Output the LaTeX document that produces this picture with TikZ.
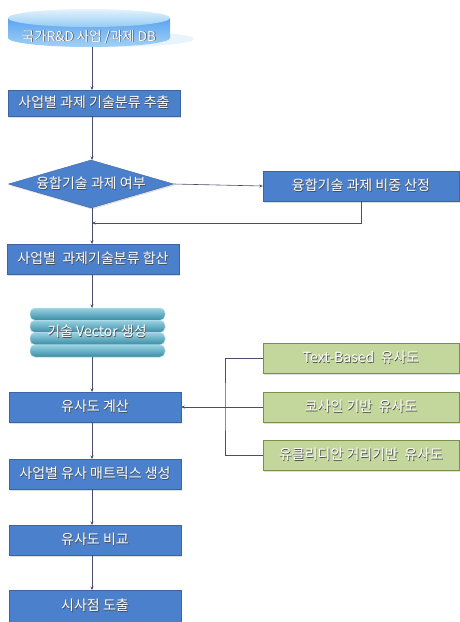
\documentclass[tikz,border=0pt]{standalone}
\usepackage{fontspec}
\setmainfont{Noto Sans CJK KR}
\usetikzlibrary{shapes.geometric,shadows,arrows.meta}

\definecolor{boxblue}{RGB}{74,128,204}
\definecolor{boxline}{RGB}{60,100,160}
\definecolor{boxgreen}{RGB}{195,214,155}
\definecolor{greenline}{RGB}{120,145,70}
\definecolor{vecblue}{RGB}{70,175,205}
\definecolor{dbtop}{RGB}{165,212,245}
\definecolor{dbside}{RGB}{100,180,238}
\definecolor{linkgray}{RGB}{70,78,105}

\newcommand{\glow}[1]{\makebox[0pt][l]{\textcolor{black!70}{\hspace{0.7pt}\raisebox{-0.7pt}{#1}}}#1}

\tikzset{
  flowbox/.style={rectangle, fill=boxblue, draw=boxline, line width=0.4pt,
    text=white, font=\fontsize{14}{16}\selectfont, minimum width=172pt,
    minimum height=30pt, inner sep=0pt,
    drop shadow={opacity=0.25, shadow xshift=1pt, shadow yshift=-1.5pt}},
  simbox/.style={rectangle, fill=boxgreen, draw=greenline, line width=0.5pt,
    text=white, font=\fontsize{14}{16}\selectfont, minimum width=196pt,
    minimum height=30pt, inner sep=0pt,
    drop shadow={opacity=0.25, shadow xshift=1pt, shadow yshift=-1.5pt}},
  link/.style={draw=linkgray, line width=0.6pt},
  arr/.style={link, -{Stealth[length=3.5pt,width=3pt]}}
}

\begin{document}
\begin{tikzpicture}[x=1pt,y=-1pt]
  \useasboundingbox (0,0) rectangle (459,622);

  % DB disc
  \fill[dbside!15] (110,39) ellipse[x radius=84pt, y radius=8pt];
  \shade[top color=dbside!90!blue, bottom color=dbside!60!white]
    (8,18) -- (8,38) arc[start angle=180, end angle=360, x radius=81pt, y radius=9pt]
    -- (170,18) -- cycle;
  \shade[top color=dbtop!30!white, bottom color=dbtop!75!dbside]
    (89,18) ellipse[x radius=81pt, y radius=9pt];
  \node[text=white, font=\fontsize{13.5}{15}\selectfont, minimum height=20pt, inner sep=0pt]
    (db) at (89,37) {\glow{국가R\&D 사업 /과제 DB}};

  \node[flowbox, minimum height=26pt] (extract) at (94,103) {\glow{사업별 과제 기술분류 추출}};
  \node[diamond, aspect=3.4, fill=boxblue, draw=boxline, line width=0.4pt, text=white,
    font=\fontsize{14}{16}\selectfont, minimum width=165pt, minimum height=48pt,
    inner sep=0pt, drop shadow={opacity=0.25, shadow xshift=1pt, shadow yshift=-1.5pt}]
    (fusion) at (91,184) {\glow{융합기술 과제 여부}};
  \node[flowbox, minimum width=196pt] (ratio) at (361,186) {\glow{융합기술 과제 비중 산정}};
  \node[flowbox] (sumup) at (93,259) {\glow{사업별\ \ 과제기술분류 합산}};

  % vector stack
  \foreach \i in {0,1,2,3}
    \shade[top color=vecblue!55!white, bottom color=vecblue!80!black, draw=white!60!vecblue,
      line width=0.5pt, rounded corners=5pt]
      (30,308+12.25*\i) rectangle (165,320.25+12.25*\i);
  \node[text=white, font=\fontsize{14}{16}\selectfont, minimum width=135pt,
    minimum height=49pt, inner sep=0pt] (vec) at (97,332) {\glow{기술 Vector 생성}};

  \node[flowbox] (simcalc) at (95,407) {\glow{유사도 계산}};
  \node[simbox] (txtsim) at (361,358) {\glow{Text-Based\ \ 유사도}};
  \node[simbox] (cossim) at (361,407) {\glow{코사인 기반\ \ 유사도}};
  \node[simbox] (eucsim) at (361,455) {\glow{유클리디안 거리기반\ \ 유사도}};

  \node[flowbox] (matrix) at (95,474) {\glow{사업별 유사 매트릭스 생성}};
  \node[flowbox] (compare) at (95,540) {\glow{유사도 비교}};
  \node[flowbox, minimum height=32pt] (insight) at (95,606) {\glow{시사점 도출}};

  \coordinate (back) at (92,223);
  \coordinate (hub) at (225,407);

  \draw[arr] (92,47) -- (92,90);
  \draw[arr] (92,116) -- (92,160);
  \draw[arr] (fusion.east) -- (ratio.west);
  \draw[arr] (92,208) -- (92,244);
  \draw[arr] (ratio.south) |- (back);
  \draw[arr] (92,274) -- (92,308);
  \draw[arr] (92,357) -- (92,392);
  \draw[link] (txtsim.west) -| (hub) |- (eucsim.west);
  \draw[link] (cossim.west) -- (hub);
  \draw[arr] (hub) -- (simcalc.east);
  \draw[arr] (92,422) -- (92,459);
  \draw[arr] (92,489) -- (92,525);
  \draw[arr] (92,555) -- (92,590);
\end{tikzpicture}
\end{document}
